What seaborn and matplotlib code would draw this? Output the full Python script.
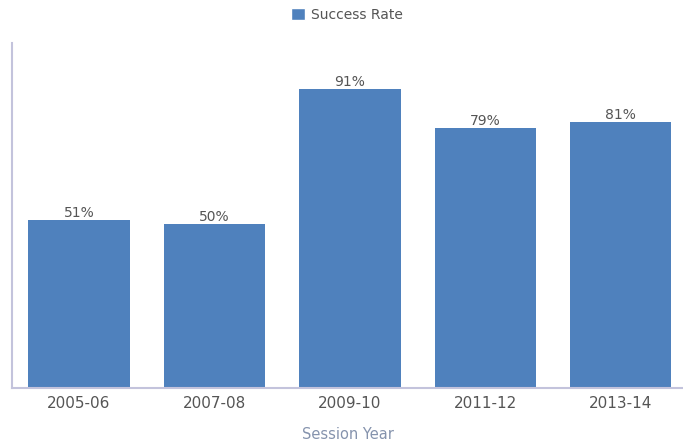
import pandas as pd
import matplotlib.pyplot as plt
import seaborn as sns
from matplotlib.patches import Patch

# values
years = ['2005-06', '2007-08', '2009-10', '2011-12', '2013-14']
success_rate = [51, 50, 91, 79, 81]

df = pd.DataFrame({'Session Year': years, 'Success Rate': success_rate})

bar_color = '#4f81bd'
axis_color = '#c3c3dc'
text_color = '#555555'

sns.set_style('white')
plt.rcParams['font.family'] = ['DejaVu Sans']

fig = plt.figure(figsize=(6.83, 4.46), dpi=100)
ax = fig.add_axes([12 / 683, 58 / 446, 671 / 683, 345 / 446])

sns.barplot(data=df, x='Session Year', y='Success Rate', color=bar_color,
            width=0.75, saturation=1, linewidth=0, ax=ax)

# percentage labels above each bar
for container in ax.containers:
    ax.bar_label(container, labels=[f'{v}%' for v in success_rate],
                 padding=0, fontsize=10, color=text_color)

ax.set_ylim(0, 105)
ax.set_xlim(-0.495, 4.46)
ax.set_yticks([])
ax.set_ylabel('')
ax.set_xlabel('Session Year', fontsize=10.5, color='#8593ad', labelpad=11)
ax.tick_params(axis='x', length=0, labelsize=11, labelcolor=text_color, pad=6)

for side in ['top', 'right']:
    ax.spines[side].set_visible(False)
for side in ['left', 'bottom']:
    ax.spines[side].set_color(axis_color)
    ax.spines[side].set_linewidth(1.5)

handle = [Patch(facecolor=bar_color, label='Success Rate')]
fig.legend(handles=handle, loc='upper center', bbox_to_anchor=(347 / 683, 1.01),
           frameon=False, fontsize=10, labelcolor=text_color,
           handlelength=1.0, handleheight=1.0, handletextpad=0.4)

fig.savefig('out.png', dpi=100)
